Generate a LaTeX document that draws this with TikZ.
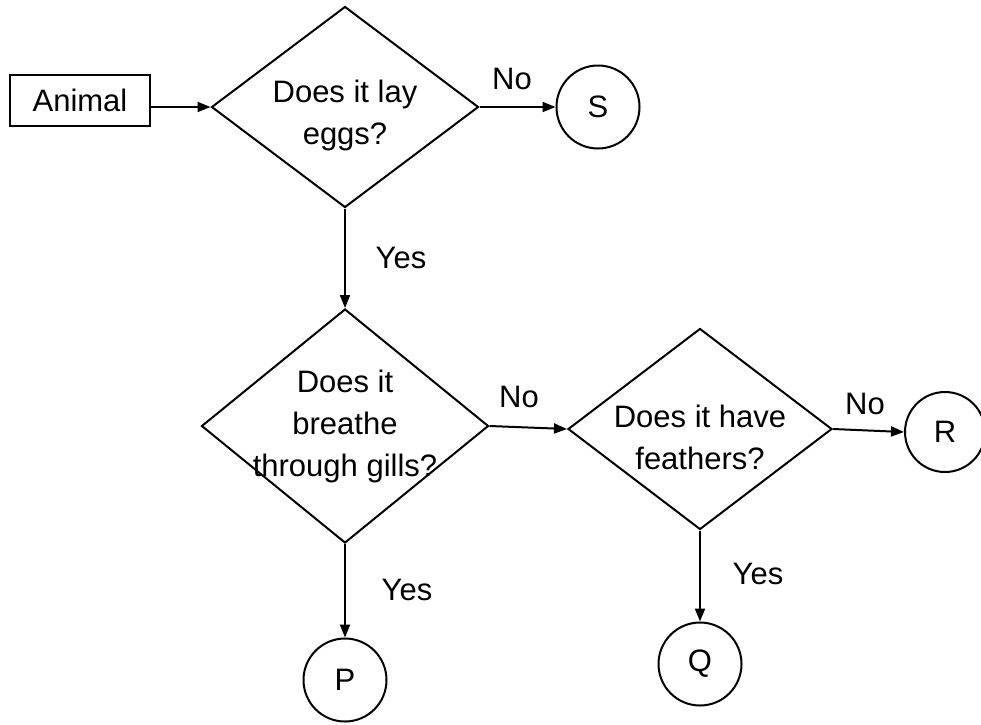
\documentclass[tikz,border=0pt]{standalone}
\usepackage{fontspec}
\setmainfont{Liberation Sans}
\usetikzlibrary{shapes.geometric,arrows.meta}
\begin{document}
\begin{tikzpicture}[x=1pt,y=-1pt,
  every node/.style={font=\fontsize{31}{42}\selectfont},
  dec/.style={diamond,draw,line width=2pt,inner sep=0pt,minimum width=#1},
  endc/.style={circle,draw,line width=2pt,minimum size=83pt,inner sep=0pt},
  box/.style={rectangle,draw,line width=2pt,minimum width=140pt,minimum height=51pt,inner sep=0pt},
  arr/.style={line width=2pt,-{Triangle[length=13pt,width=10pt]}},
  lab/.style={inner sep=0pt}]
\useasboundingbox (0,0) rectangle (981,724);
\node[box] (animal) at (80,100) {Animal};
\node[dec=267pt, minimum height=201pt,
  label={[align=center,yshift=-8pt]center:Does it lay\\eggs?}] (d1) at (345,107) {};
\node[endc] (s) at (598,107) {S};
\node[dec=287pt, minimum height=234pt,
  label={[align=center]center:Does it\\breathe\\through gills?}] (d2) at (345,426) {};
\node[dec=264pt, minimum height=201pt,
  label={[align=center,yshift=-8pt]center:Does it have\\feathers?}] (d3) at (700,429) {};
\node[endc, minimum size=80pt] (r) at (945,432) {R};
\node[endc] (p) at (345,680) {P};
\node[endc] (q) at (700,664) {Q};
\draw[arr] (animal.east |- d1.west) -- (d1.west);
\draw[arr] (d1.east) -- (s.west);
\draw[arr] (d1.south) -- (d2.north);
\draw[arr] (d2.east) -- (d3.west);
\draw[arr] (d3.east) -- (r.west);
\draw[arr] (d2.south) -- (p.north);
\draw[arr] (d3.south) -- (q.north);
\node[lab] (no1) at (512,79) {No};
\node[lab] (yes1) at (401,258) {Yes};
\node[lab] (no2) at (519,397) {No};
\node[lab] (no3) at (865,404) {No};
\node[lab] (yes2) at (407,590) {Yes};
\node[lab] (yes3) at (758,574) {Yes};
\end{tikzpicture}
\end{document}
